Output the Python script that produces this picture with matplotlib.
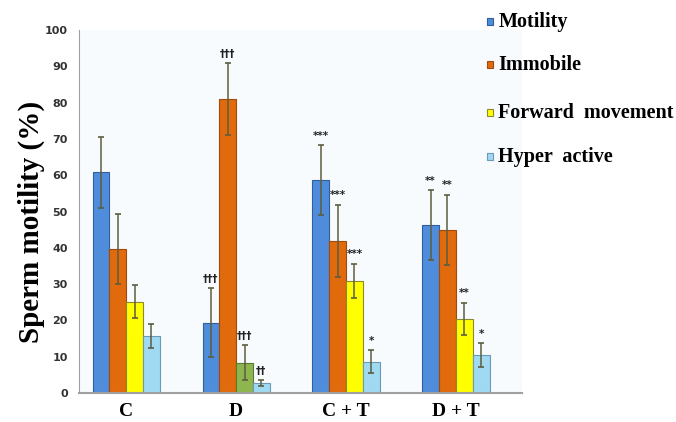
import matplotlib.pyplot as plt
import numpy as np

# group labels and series
groups = ['C', 'D', 'C + T', 'D + T']
series = ['Motility', 'Immobile', 'Forward  movement', 'Hyper  active']

motility = [60.8, 19.4, 58.6, 46.2]
motility_err = [9.7, 9.5, 9.6, 9.6]
immobile = [39.6, 81.0, 41.9, 45.0]
immobile_err = [9.7, 9.8, 10.0, 9.6]
forward = [25.2, 8.4, 30.9, 20.4]
forward_err = [4.6, 4.7, 4.7, 4.5]
hyper = [15.7, 2.8, 8.6, 10.4]
hyper_err = [3.3, 0.8, 3.2, 3.3]

# significance marks above each bar
marks = {
    'Motility': ['', '\u2020\u2020\u2020', '***', '**'],
    'Immobile': ['', '\u2020\u2020\u2020', '***', '**'],
    'Forward  movement': ['', '\u2020\u2020\u2020', '***', '**'],
    'Hyper  active': ['', '\u2020\u2020', '*', '*'],
}

vals = [motility, immobile, forward, hyper]
errs = [motility_err, immobile_err, forward_err, hyper_err]
cols = ['#4f8ddc', '#e06a0c', '#ffff00', '#9fdaf2']
edges = ['#2f5f9f', '#a04a10', '#8a8a30', '#6a9ab8']

fig = plt.figure(figsize=(6.76, 4.22), dpi=100)
fig.patch.set_facecolor('white')
ax = fig.add_axes([0.1169, 0.0687, 0.655, 0.860])
ax.set_facecolor('#f8fbfe')

x = np.arange(len(groups))
w = 0.153
for i, s in enumerate(series):
    pos = x + (i - 1.5) * w
    c = list([cols[i]] * len(groups))
    ec = list([edges[i]] * len(groups))
    if s.startswith('Forward'):
        # D group forward bar drawn green in the original
        c[1] = '#8db64e'
        ec[1] = '#5a7a30'
    ax.bar(pos, vals[i], width=w, color=c, edgecolor=ec, linewidth=0.8, zorder=2)
    ax.errorbar(pos, vals[i], yerr=errs[i], fmt='none', ecolor='#5d5d40',
                elinewidth=1.1, capsize=2.5, capthick=1.2, zorder=3)
    for j in range(len(groups)):
        m = marks[s][j]
        if m:
            ax.text(pos[j], vals[i][j] + errs[i][j] + 1.2, m, ha='center', va='bottom',
                    fontsize=7.5, fontweight='bold', color='#222222',
                    family='DejaVu Sans', zorder=4)

ax.set_xlim(-0.43, 3.6)
ax.set_ylim(0, 100)
ax.set_yticks(np.arange(0, 101, 10))
ax.set_xticks(x)
ax.set_xticklabels(groups, fontsize=14, fontweight='bold', family='Liberation Serif')
ax.tick_params(axis='both', length=0)
ax.tick_params(axis='y', labelsize=8, pad=8)
ax.tick_params(axis='x', pad=7)
for lab in ax.get_yticklabels():
    lab.set_fontweight('bold')
    lab.set_color('#333333')

for sp in ['top', 'right']:
    ax.spines[sp].set_visible(False)
ax.spines['left'].set_color('#a0a0a0')
ax.spines['bottom'].set_color('#a0a0a0')
ax.spines['bottom'].set_linewidth(1.5)

fig.text(0.046, 0.475, 'Sperm motility (%)', rotation=90, ha='center', va='center',
         fontsize=21, fontweight='bold', family='Liberation Serif')

# legend drawn as figure text with small squares
ly = [0.948, 0.846, 0.732, 0.628]
for i, s in enumerate(series):
    fig.patches.append(plt.Rectangle((0.720, ly[i] - 0.008), 0.010, 0.017,
                                     transform=fig.transFigure, facecolor=cols[i],
                                     edgecolor=edges[i], linewidth=0.8))
    fig.text(0.737, ly[i], s, ha='left', va='center', fontsize=14.5,
             fontweight='bold', family='Liberation Serif')

plt.savefig('out.png', dpi=100)
